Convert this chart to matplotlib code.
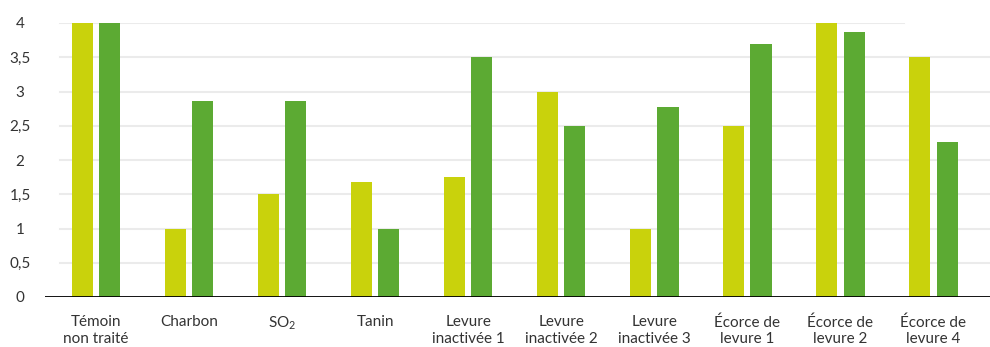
import numpy as np
import matplotlib.pyplot as plt

categories = ["Témoin\nnon traité", "Charbon", "SO$_2$", "Tanin",
              "Levure\ninactivée 1", "Levure\ninactivée 2", "Levure\ninactivée 3",
              "Écorce de\nlevure 1", "Écorce de\nlevure 2", "Écorce de\nlevure 4"]
serie_1 = [4.0, 1.0, 1.5, 1.68, 1.75, 3.0, 1.0, 2.5, 4.0, 3.5]
serie_2 = [4.0, 2.86, 2.86, 1.0, 3.5, 2.5, 2.77, 3.69, 3.87, 2.26]
yticks = [0, 0.5, 1, 1.5, 2, 2.5, 3, 3.5, 4]
ylabels = ["0", "0,5", "1", "1,5", "2", "2,5", "3", "3,5", "4"]

plt.rcParams['font.family'] = ['Lato', 'DejaVu Sans']
plt.rcParams['mathtext.fontset'] = 'custom'
plt.rcParams['mathtext.rm'] = 'Lato'
plt.rcParams['mathtext.it'] = 'Lato'

fig = plt.figure(figsize=(9.9, 3.47), dpi=100)
ax = fig.add_axes([45 / 990, 50 / 347, 945 / 990, 274 / 347])

x = np.arange(len(categories))
w = 0.226
off = 0.148
ax.bar(x - off, serie_1, w, color='#C9D20C', zorder=2)
ax.bar(x + off, serie_2, w, color='#5CAA33', zorder=2)

# gridlines (the top one stops short)
for yv in yticks[1:]:
    xmax = (904 - 45) / 945 if yv == 4 else 1
    ax.axhline(yv, xmin=15 / 945, xmax=xmax, color='#ebebeb', lw=1.5, zorder=0)
ax.axhline(0, color='black', lw=1.3, zorder=3)

ax.set_xlim(-0.55, 9.61)
ax.set_ylim(0, 4)
ax.set_yticks(yticks)
ax.set_yticklabels(ylabels, ha='center')
ax.set_xticks(x)
ax.set_xticklabels(categories, linespacing=1.25)
ax.tick_params(axis='y', length=0, pad=18, labelsize=11, labelcolor='#333333')
ax.tick_params(axis='x', length=0, pad=13, labelsize=11, labelcolor='#333333')
for s in ax.spines.values():
    s.set_visible(False)

fig.savefig('out.png', dpi=100)
